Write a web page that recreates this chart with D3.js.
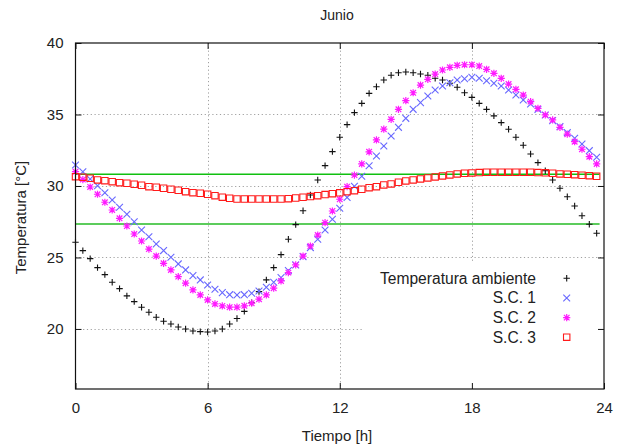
<!DOCTYPE html>
<html>
<head>
<meta charset="utf-8">
<script src="https://cdn.jsdelivr.net/npm/d3@7"></script>
<style>
  body { margin: 0; background: #fff; }
  svg { display: block; }
  text { font-family: "Liberation Sans", Arial, Helvetica, sans-serif; fill: #222; }
</style>
</head>
<body>
<svg id="chart" width="621" height="447"></svg>
<script>
// Sampling instants, minutes after midnight (20-minute steps)
const minutes = [
  0, 20, 40, 60, 80, 100, 120, 140, 160, 180, 200, 220,
  240, 260, 280, 300, 320, 340, 360, 380, 400, 420, 440, 460,
  480, 500, 520, 540, 560, 580, 600, 620, 640, 660, 680, 700,
  720, 740, 760, 780, 800, 820, 840, 860, 880, 900, 920, 940,
  960, 980, 1000, 1020, 1040, 1060, 1080, 1100, 1120, 1140, 1160, 1180,
  1200, 1220, 1240, 1260, 1280, 1300, 1320, 1340, 1360, 1380, 1400, 1420
];

// Outdoor (ambient) temperature, °C
const ambiente = [
  26.06, 25.48, 24.92, 24.29, 23.80, 23.27, 22.82, 22.31, 21.91, 21.52, 21.17, 20.82,
  20.54, 20.35, 20.14, 20.00, 19.86, 19.81, 19.79, 19.86, 20.00, 20.35, 20.73, 21.23,
  21.83, 22.61, 23.43, 24.29, 25.20, 26.27, 27.30, 28.27, 29.37, 30.42, 31.42, 32.40,
  33.41, 34.29, 35.13, 35.78, 36.48, 36.94, 37.41, 37.74, 37.92, 37.97, 37.92, 37.83,
  37.74, 37.53, 37.41, 37.18, 36.90, 36.52, 36.20, 35.78, 35.36, 34.90, 34.43, 33.97,
  33.41, 32.85, 32.24, 31.63, 31.07, 30.42, 29.84, 29.25, 28.60, 27.92, 27.32, 26.69
];

// Indoor temperature, construction system 1
const sc1 = [
  31.47, 31.00, 30.49, 30.02, 29.53, 29.02, 28.51, 28.02, 27.50, 26.92, 26.45, 25.94,
  25.48, 25.01, 24.55, 24.13, 23.73, 23.43, 23.08, 22.78, 22.54, 22.40, 22.38, 22.40,
  22.50, 22.66, 22.92, 23.27, 23.59, 24.08, 24.48, 25.06, 25.69, 26.27, 26.92, 27.67,
  28.44, 29.20, 29.98, 30.68, 31.41, 32.10, 32.80, 33.50, 34.10, 34.73, 35.36, 35.83,
  36.29, 36.71, 36.99, 37.22, 37.41, 37.50, 37.60, 37.53, 37.36, 37.18, 36.99, 36.71,
  36.36, 36.01, 35.73, 35.36, 34.97, 34.57, 34.15, 33.73, 33.34, 32.94, 32.47, 32.01
];

// Indoor temperature, construction system 2
const sc2 = [
  31.00, 30.45, 29.93, 29.42, 28.86, 28.32, 27.74, 27.20, 26.64, 26.15, 25.59, 25.10,
  24.59, 24.13, 23.66, 23.20, 22.73, 22.38, 22.03, 21.75, 21.61, 21.52, 21.52, 21.62,
  21.80, 22.08, 22.38, 22.85, 23.36, 23.94, 24.48, 25.10, 25.80, 26.57, 27.43, 28.25,
  29.07, 29.95, 30.76, 31.54, 32.39, 33.22, 33.97, 34.66, 35.36, 35.97, 36.52, 37.06,
  37.46, 37.83, 38.11, 38.30, 38.44, 38.48, 38.48, 38.39, 38.16, 37.88, 37.53, 37.13,
  36.76, 36.36, 35.90, 35.43, 34.97, 34.62, 34.10, 33.62, 33.10, 32.57, 32.05, 31.54
];

// Indoor temperature, construction system 3
const sc3 = [
  30.65, 30.61, 30.54, 30.42, 30.37, 30.30, 30.23, 30.19, 30.12, 30.05, 29.95, 29.91,
  29.84, 29.77, 29.70, 29.60, 29.53, 29.49, 29.42, 29.32, 29.22, 29.14, 29.09, 29.09,
  29.09, 29.09, 29.09, 29.09, 29.09, 29.11, 29.16, 29.21, 29.26, 29.32, 29.40, 29.46,
  29.52, 29.60, 29.67, 29.77, 29.88, 29.95, 30.07, 30.14, 30.26, 30.35, 30.42, 30.49,
  30.56, 30.63, 30.70, 30.77, 30.84, 30.89, 30.91, 30.94, 30.96, 30.96, 30.96, 30.96,
  30.96, 30.96, 30.96, 30.94, 30.92, 30.89, 30.84, 30.82, 30.79, 30.75, 30.72, 30.68
];

// Comfort band limits (°C) and the time span they cover (h)
const confortLimites = [30.82, 27.34];
const confortTramo = [0, 23.8];

const xTicks = [0, 6, 12, 18, 24];
const yTicks = [20, 25, 30, 35, 40];
const seriesNames = ["Temperatura ambiente", "S.C. 1", "S.C. 2", "S.C. 3"];
const titulo = "Junio";
const xTitulo = "Tiempo [h]";
const yTitulo = "Temperatura [°C]";

// ---- layout ----
const svg = d3.select("#chart");
const L = 75.5, R = 604, T = 43, B = 389;
const x = d3.scaleLinear().domain([0, 24]).range([L, R]);
const y = d3.scaleLinear().domain([15.8, 40]).range([B, T]);
const hours = minutes.map(m => m / 60);

// ---- grid ----
const grid = svg.append("g")
  .attr("stroke", "#a0a0a0").attr("stroke-width", 1)
  .attr("stroke-dasharray", "1.2,2.6").attr("fill", "none");
xTicks.filter(t => t > 0 && t < 24).forEach(t => {
  grid.append("line").attr("x1", Math.round(x(t)) + 0.5).attr("x2", Math.round(x(t)) + 0.5)
    .attr("y1", T).attr("y2", B);
});
yTicks.filter(t => t < 40).forEach(t => {
  grid.append("line").attr("y1", Math.round(y(t)) + 0.5).attr("y2", Math.round(y(t)) + 0.5)
    .attr("x1", L).attr("x2", R);
});

// opaque key box hides the grid beneath it
svg.append("rect").attr("x", 363).attr("y", 261).attr("width", R - 363).attr("height", B - 261)
  .attr("fill", "#fff");

// ---- comfort band lines ----
const greens = ["#10c010", "#5ccc5c"];
confortLimites.forEach((v, i) => {
  svg.append("line")
    .attr("x1", x(confortTramo[0])).attr("x2", x(confortTramo[1]))
    .attr("y1", y(v)).attr("y2", y(v))
    .attr("stroke", greens[i]).attr("stroke-width", i === 0 ? 1.3 : 1.8);
});

// ---- point symbols ----
const symPlus = "M-3.2,0H3.2M0,-3.2V3.2";
const symCross = "M-3.4,-3.4L3.4,3.4M-3.4,3.4L3.4,-3.4";
const symStar = "M-3.6,0H3.6M0,-3.6V3.6M-2.8,-2.8L2.8,2.8M-2.8,2.8L2.8,-2.8";
const symSquare = "M-3.2,-3.2H3.2V3.2H-3.2Z";

const series = [
  { name: seriesNames[0], values: ambiente, sym: symPlus, color: "#111", width: 1.1 },
  { name: seriesNames[1], values: sc1, sym: symCross, color: "#6868ff", width: 1.1 },
  { name: seriesNames[2], values: sc2, sym: symStar, color: "#ff1aff", width: 1.2 },
  { name: seriesNames[3], values: sc3, sym: symSquare, color: "#ff1a1a", width: 1.1 }
];

series.forEach(s => {
  svg.append("g").selectAll("path").data(s.values).join("path")
    .attr("transform", (d, i) => `translate(${x(hours[i])},${y(d)})`)
    .attr("d", s.sym)
    .attr("fill", "none")
    .attr("stroke", s.color)
    .attr("stroke-width", s.width);
});

// ---- frame and axes ----
svg.append("rect").attr("x", L).attr("y", T).attr("width", R - L).attr("height", B - T)
  .attr("fill", "none").attr("stroke", "#111").attr("stroke-width", 1.2);

function styleAxis(g) {
  g.select(".domain").remove();
  g.selectAll(".tick line").attr("stroke", "#111");
  g.selectAll("text").attr("fill", "#222").style("font-size", "15px")
    .style("font-family", '"Liberation Sans", Arial, Helvetica, sans-serif');
}

svg.append("g").attr("transform", `translate(${L},0)`)
  .call(d3.axisLeft(y).tickValues(yTicks).tickSize(-6).tickPadding(12).tickFormat(d3.format("d")))
  .call(styleAxis);
svg.append("g").attr("transform", `translate(${R},0)`)
  .call(d3.axisRight(y).tickValues(yTicks).tickSize(-6).tickFormat(""))
  .call(styleAxis);
svg.append("g").attr("transform", `translate(0,${B})`)
  .call(d3.axisBottom(x).tickValues(xTicks).tickSize(-6).tickPadding(13).tickFormat(d3.format("d")))
  .call(styleAxis);
svg.append("g").attr("transform", `translate(0,${T})`)
  .call(d3.axisTop(x).tickValues(xTicks).tickSize(-6).tickFormat(""))
  .call(styleAxis);

// ---- titles ----
svg.append("text").attr("x", 337).attr("y", 20).attr("text-anchor", "middle")
  .style("font-size", "14px").text(titulo);
svg.append("text").attr("x", 337).attr("y", 441).attr("text-anchor", "middle")
  .style("font-size", "15px").text(xTitulo);
svg.append("text").attr("transform", "translate(26,217.5) rotate(-90)")
  .attr("text-anchor", "middle").style("font-size", "15px").text(yTitulo);

// ---- key ----
const keyRows = [278.3, 298, 317.6, 337.2];
series.forEach((s, i) => {
  svg.append("text").attr("x", 536).attr("y", keyRows[i]).attr("dy", "0.35em")
    .attr("text-anchor", "end").style("font-size", "15.6px").text(s.name);
  svg.append("path").attr("transform", `translate(566.7,${keyRows[i]})`)
    .attr("d", s.sym).attr("fill", "none").attr("stroke", s.color).attr("stroke-width", s.width);
});
</script>
</body>
</html>
